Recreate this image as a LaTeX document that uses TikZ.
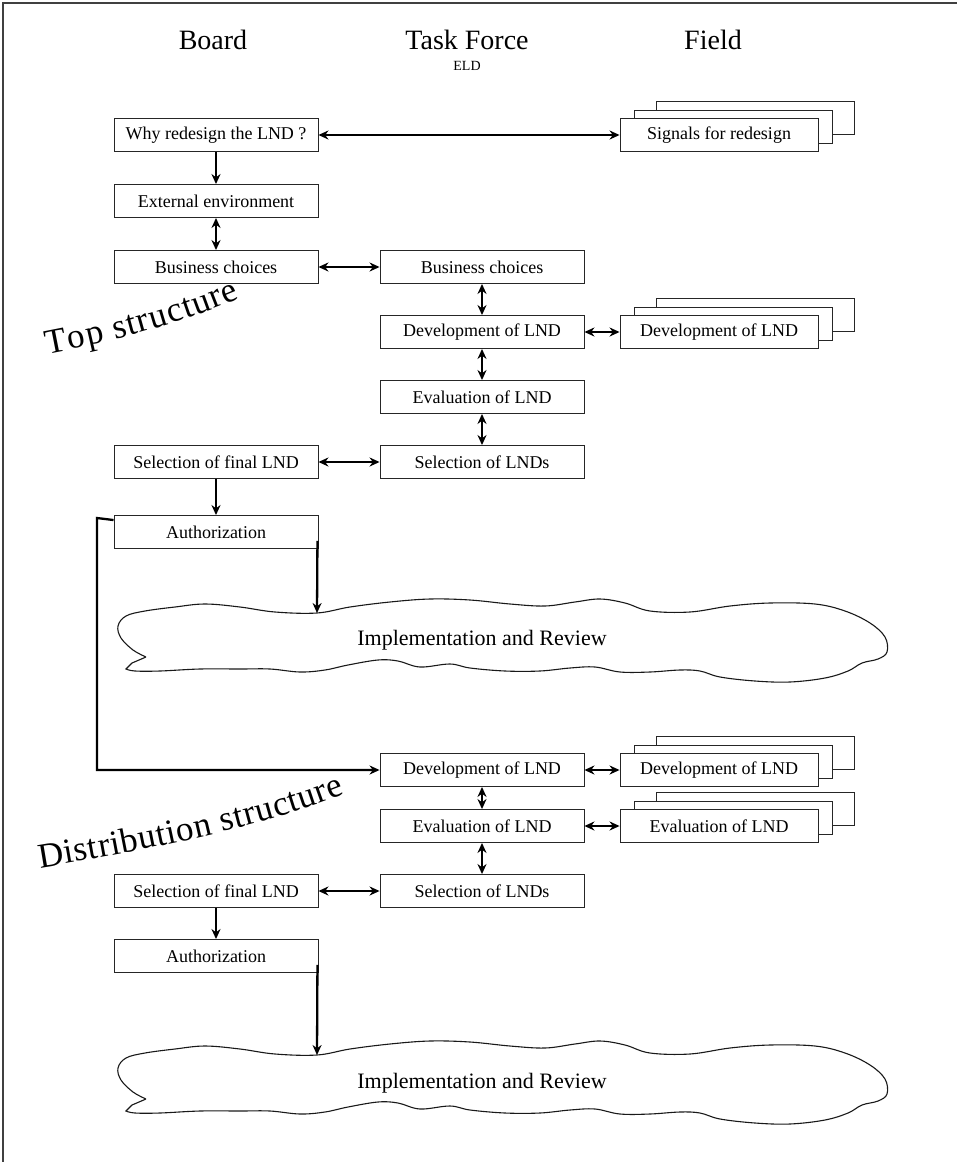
\documentclass[tikz,border=0pt]{standalone}
\usepackage{fontspec}
\setmainfont{Liberation Serif}
\usetikzlibrary{arrows.meta,decorations.text}

% stacked field boxes: name, x, y, text
\newcommand\fieldstack[4]{%
  \node[fbox, xshift=36pt, yshift=17pt] (#1c) at (#2,#3) {};
  \node[fbox, xshift=14pt, yshift=8pt] (#1b) at (#2,#3) {};
  \node[fbox] (#1) at (#2,#3) {#4};
}

% wavy outline of an implementation cloud
\newcommand\cloudoutline{%
  \draw[cloudline] plot[smooth, tension=0.6] coordinates {
    (146,657) (133,650) (121,638) (118,626) (126,616) (145,611) (175,607)
    (205,604) (240,607) (275,612) (317,613) (350,607) (390,602) (430,599)
    (470,600) (510,604) (545,606) (575,602) (600,599) (625,603) (650,611)
    (690,612) (730,606) (770,603) (815,604) (845,611) (870,623) (885,637)
    (887,652) (878,659) (862,663) (848,671) (825,678) (790,682) (755,681)
    (720,677) (700,671) (680,670) (650,672) (620,672) (595,667) (570,668)
    (540,671) (505,671) (470,668) (450,664) (420,667) (398,661) (378,660)
    (348,665) (325,670) (300,672) (270,669) (240,669) (200,669) (160,671)
    (135,671) (126,669)} -- (132,663) -- (146,657);
}

\begin{document}
\begin{tikzpicture}[x=1pt,y=-1pt,
  box/.style={draw=black!85, line width=0.9pt, fill=white,
    minimum width=204pt, minimum height=33pt, inner sep=0pt,
    font=\fontsize{18}{20}\selectfont},
  fbox/.style={box, minimum width=198pt},
  tip/.tip={Stealth[length=10pt,width=9pt]},
  link/.style={line width=2.3pt, -tip},
  dlink/.style={line width=2.3pt, tip-tip},
  head/.style={font=\fontsize{28}{30}\selectfont},
  cloudline/.style={line width=1.1pt, black!90},
  cloudtext/.style={font=\fontsize{22}{24}\selectfont},
  arclabel/.style={decorate, decoration={text effects along path,
    text={#1}, text effects/.cd, text along path, fit text to path,
    characters={font=\fontsize{35}{35}\selectfont, inner sep=0pt},
    character widths={font=\fontsize{35}{35}\selectfont, inner sep=0pt}}}
]
\useasboundingbox (0,0) rectangle (957,1162);

% page frame
\draw[line width=1.2pt, black!75] (3,1162) -- (3,3) -- (957,3);

% column headings
\node[head] (hboard) at (213,40) {Board};
\node[head] (htask)  at (467,40) {Task Force};
\node[head] (hfield) at (713,40) {Field};
\node[font=\fontsize{14}{16}\selectfont] (held) at (467,66) {ELD};

% ---------- top structure ----------
\node[box] (why)  at (216,135) {Why redesign the LND ?};
\fieldstack{sig}{719}{135}{Signals for redesign}
\node[box] (ext)  at (216,201) {External environment};
\node[box] (busL) at (216,267) {Business choices};
\node[box] (busT) at (482,267) {Business choices};
\node[box] (devT) at (482,332) {Development of LND};
\fieldstack{devF}{719}{332}{Development of LND}
\node[box] (evaT) at (482,397) {Evaluation of LND};
\node[box] (selL) at (216,462) {Selection of final LND};
\node[box] (selT) at (482,462) {Selection of LNDs};
\node[box] (auth) at (216,532) {Authorization};

\draw[dlink] (why) -- (sig);
\draw[link]  (why) -- (ext);
\draw[dlink] (ext) -- (busL);
\draw[dlink] (busL) -- (busT);
\draw[dlink] (busT) -- (devT);
\draw[dlink] (devT) -- (devF);
\draw[dlink] (devT) -- (evaT);
\draw[dlink] (evaT) -- (selT);
\draw[dlink] (selL) -- (selT);
\draw[link]  (selL) -- (auth);

\path[arclabel={Top structure}]
  (47,354) .. controls (110,342) and (175,326) .. (240,298);

% first implementation cloud
\cloudoutline
\node[cloudtext] (impl) at (482,640) {Implementation and Review};
\coordinate (impltop) at (317,613);
\draw[link] ([xshift=-1pt,yshift=8pt]auth.south east) -- (impltop);

% ---------- distribution structure ----------
\node[box] (devT2) at (482,770) {Development of LND};
\fieldstack{devF2}{719}{770}{Development of LND}
\node[box] (evaT2) at (482,826) {Evaluation of LND};
\fieldstack{evaF2}{719}{826}{Evaluation of LND}
\node[box] (selL2) at (216,891) {Selection of final LND};
\node[box] (selT2) at (482,891) {Selection of LNDs};
\node[box] (auth2) at (216,956) {Authorization};

\coordinate (bend) at (97,518);
\draw[link] ([yshift=-5pt]auth.north west) -- (bend) |- (devT2.west);
\draw[dlink] (devT2) -- (devF2);
\draw[dlink] (devT2) -- (evaT2);
\draw[dlink] (evaT2) -- (evaF2);
\draw[dlink] (evaT2) -- (selT2);
\draw[dlink] (selL2) -- (selT2);
\draw[link]  (selL2) -- (auth2);

\path[arclabel={Distribution structure}]
  (40,868) .. controls (150,850) and (265,826) .. (345,794);

% second implementation cloud
\begin{scope}[shift={(0,442)}]
  \cloudoutline
\end{scope}
\node[cloudtext] (impl2) at (482,1083) {Implementation and Review};
\coordinate (impl2top) at (317,1055);
\draw[link] ([xshift=-1pt,yshift=8pt]auth2.south east) -- (impl2top);
\end{tikzpicture}
\end{document}
